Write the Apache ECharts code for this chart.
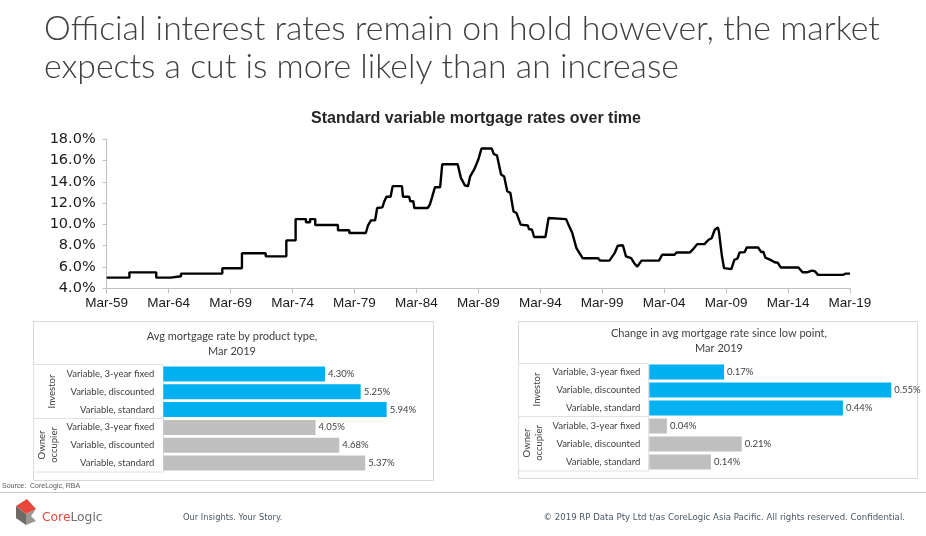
<!DOCTYPE html>
<html>
<head>
<meta charset="utf-8">
<script src="https://cdn.jsdelivr.net/npm/echarts@6/dist/echarts.min.js"></script>
<style>
html,body{margin:0;padding:0;background:#fff;}
#c{width:926px;height:536px;}
</style>
</head>
<body>
<div id="c"></div>
<script>
// ---- Data ----
const rateDates = ["1959-03","1961-01","1961-01","1963-03","1963-03","1964-05","1964-05","1965-03","1965-03","1968-07","1968-07","1970-02","1970-02","1972-01","1972-01","1973-09","1973-09","1974-06","1974-06","1975-04","1975-04","1975-08","1975-08","1976-01","1976-01","1977-11","1977-11","1978-10","1978-10","1980-02","1980-04","1980-07","1980-11","1981-01","1981-06","1981-08","1981-10","1982-02","1982-04","1983-01","1983-02","1983-08","1983-09","1983-12","1984-01","1985-02","1985-04","1985-06","1985-09","1986-02","1986-04","1987-07","1987-10","1988-02","1988-05","1988-07","1988-11","1989-03","1989-06","1990-04","1990-06","1990-09","1991-01","1991-04","1991-07","1991-10","1992-01","1992-04","1992-08","1993-03","1993-04","1993-07","1993-09","1994-08","1994-11","1996-04","1996-07","1996-10","1997-02","1997-05","1997-08","1998-11","1999-01","1999-10","2000-03","2000-06","2000-11","2001-02","2001-07","2001-10","2002-01","2002-05","2003-10","2004-01","2005-01","2005-03","2006-04","2006-08","2006-11","2007-06","2007-10","2008-01","2008-04","2008-07","2008-08","2008-11","2009-01","2009-08","2009-11","2010-02","2010-04","2010-09","2010-11","2011-10","2012-01","2012-03","2012-05","2012-10","2013-02","2013-05","2013-08","2015-01","2015-05","2015-10","2016-02","2016-05","2016-08","2018-08","2018-11","2019-03"];
const rateValues = [5.0,5.0,5.5,5.5,5.0,5.0,5.13,5.13,5.38,5.38,5.88,5.88,7.3,7.3,7.0,7.0,8.5,8.5,10.5,10.5,10.2,10.2,10.5,10.5,9.95,9.95,9.45,9.45,9.2,9.2,9.88,10.38,10.4,11.55,11.6,12.18,12.6,12.6,13.6,13.6,12.6,12.6,12.18,12.18,11.55,11.55,11.87,12.5,13.5,13.5,15.65,15.65,14.4,13.66,13.6,14.5,15.17,16.1,17.13,17.13,16.6,16.5,14.7,14.5,13.12,12.97,11.23,11.07,9.98,9.9,9.57,9.5,8.82,8.82,10.6,10.5,9.82,9.19,7.78,7.3,6.83,6.83,6.6,6.6,7.3,8.0,8.05,7.0,6.83,6.36,6.04,6.6,6.6,7.15,7.15,7.37,7.37,7.78,8.15,8.15,8.56,8.7,9.5,9.72,9.35,6.98,5.89,5.8,6.67,6.8,7.36,7.4,7.83,7.83,7.4,7.45,6.89,6.67,6.45,6.4,5.95,5.95,5.51,5.51,5.66,5.6,5.26,5.26,5.38,5.38];
const yTickLabels = ["4.0%","6.0%","8.0%","10.0%","12.0%","14.0%","16.0%","18.0%"];
const productTypes = ["Variable, 3-year fixed","Variable, discounted","Variable, standard","Variable, 3-year fixed","Variable, discounted","Variable, standard"];
const avgRateInvestor = [4.30,5.25,5.94];
const avgRateOwner = [4.05,4.68,5.37];
const changeInvestor = [0.17,0.55,0.44];
const changeOwner = [0.04,0.21,0.14];

// ---- Build ----
function monthIndex(s){const p=s.split('-');return (parseInt(p[0])-1959)*12+(parseInt(p[1])-3);}
const lineData = rateDates.map((d,i)=>[monthIndex(d), rateValues[i]]);
const BLUE='#00B0F0', GREY='#BFBFBF';
function barData(inv, own){
  return inv.map(v=>({value:v,itemStyle:{color:BLUE}})).concat(own.map(v=>({value:v,itemStyle:{color:GREY}})));
}
const SMALL = "Lato,'Liberation Sans',Arial,sans-serif";
const TXT = '#404040';

const chart = echarts.init(document.getElementById('c'), null, {renderer:'canvas'});
const option = {
  animation:false,
  backgroundColor:'#fff',
  grid:[
    {left:106.7, top:139.3, width:743.3, height:149},
    {left:163.3, top:365, width:263.2, height:107},
    {left:649.3, top:363, width:264, height:108}
  ],
  xAxis:[
    {gridIndex:0, type:'value', min:0, max:720, interval:60,
     axisLine:{show:true, lineStyle:{color:'#BFBFBF', width:1}},
     axisTick:{show:true, length:5, lineStyle:{color:'#BFBFBF'}},
     splitLine:{show:false},
     axisLabel:{margin:8, fontSize:13.5, color:'#1a1a1a', fontFamily:"'Liberation Sans',Arial,sans-serif",
       formatter:v=>'Mar-'+String((59+v/12)%100).padStart(2,'0')}},
    {gridIndex:1, type:'value', min:0, max:7, show:false},
    {gridIndex:2, type:'value', min:0, max:0.6, show:false}
  ],
  yAxis:[
    {gridIndex:0, type:'value', min:4, max:18, interval:2,
     axisLine:{show:true, lineStyle:{color:'#BFBFBF', width:1}},
     axisTick:{show:true, length:4, lineStyle:{color:'#BFBFBF'}},
     splitLine:{show:false},
     axisLabel:{margin:11, fontSize:14.5, color:'#1a1a1a', fontFamily:"'DejaVu Sans',sans-serif",
       formatter:v=>yTickLabels[Math.round((v-4)/2)]}},
    {gridIndex:1, type:'category', data:productTypes, inverse:true,
     axisLine:{show:false}, axisTick:{show:false},
     axisLabel:{margin:9, fontSize:9.5, color:TXT, fontFamily:SMALL}},
    {gridIndex:2, type:'category', data:productTypes, inverse:true,
     axisLine:{show:false}, axisTick:{show:false},
     axisLabel:{margin:9, fontSize:9.5, color:TXT, fontFamily:SMALL}}
  ],
  series:[
    {type:'line', xAxisIndex:0, yAxisIndex:0, data:lineData, showSymbol:false, symbol:'none',
     lineStyle:{color:'#000', width:2.4}, silent:true},
    {type:'bar', xAxisIndex:1, yAxisIndex:1, data:barData(avgRateInvestor, avgRateOwner), barWidth:15,
     label:{show:true, position:'right', distance:3, fontSize:9.5, color:TXT, fontFamily:SMALL,
       formatter:p=>p.value.toFixed(2)+'%'}},
    {type:'bar', xAxisIndex:2, yAxisIndex:2, data:barData(changeInvestor, changeOwner), barWidth:15,
     label:{show:true, position:'right', distance:3, fontSize:9.5, color:TXT, fontFamily:SMALL,
       formatter:p=>p.value.toFixed(2)+'%'}}
  ],
  graphic:[
    // headline
    {type:'text', x:44, y:29, style:{text:'Official interest rates remain on hold however, the market', fontSize:33.8, fill:'#3f3f3f', fontFamily:"Lato,sans-serif", fontWeight:300, verticalAlign:'middle'}},
    {type:'text', x:44, y:67, style:{text:'expects a cut is more likely than an increase', fontSize:33.8, fill:'#3f3f3f', fontFamily:"Lato,sans-serif", fontWeight:300, verticalAlign:'middle'}},
    // chart title
    {type:'text', x:476, y:119, style:{text:'Standard variable mortgage rates over time', fontSize:16, fontWeight:'bold', fill:'#262626', fontFamily:"'Liberation Sans',Arial,sans-serif", align:'center', verticalAlign:'middle'}},
    // panel borders
    {type:'rect', shape:{x:33.5, y:321.5, width:400, height:159}, style:{fill:'none', stroke:'#D9D9D9', lineWidth:1}},
    {type:'rect', shape:{x:518.5, y:321.5, width:399, height:157}, style:{fill:'none', stroke:'#D9D9D9', lineWidth:1}},
    // category boxes
    {type:'rect', shape:{x:33.5, y:364.5, width:130, height:107.5}, style:{fill:'none', stroke:'#E0E0E0', lineWidth:1}},
    {type:'line', shape:{x1:33.5, y1:418.5, x2:163.5, y2:418.5}, style:{stroke:'#E0E0E0', lineWidth:1}},
    {type:'rect', shape:{x:518.5, y:363.5, width:130, height:107.5}, style:{fill:'none', stroke:'#E0E0E0', lineWidth:1}},
    {type:'line', shape:{x1:518.5, y1:416.5, x2:648.5, y2:416.5}, style:{stroke:'#E0E0E0', lineWidth:1}},
    // panel titles
    {type:'text', x:232, y:336, style:{text:'Avg mortgage rate by product type,', fontSize:11, fill:TXT, fontFamily:SMALL, align:'center', verticalAlign:'middle'}},
    {type:'text', x:232, y:351, style:{text:'Mar 2019', fontSize:11, fill:TXT, fontFamily:SMALL, align:'center', verticalAlign:'middle'}},
    {type:'text', x:719, y:333, style:{text:'Change in avg mortgage rate since low point,', fontSize:11, fill:TXT, fontFamily:SMALL, align:'center', verticalAlign:'middle'}},
    {type:'text', x:719, y:348, style:{text:'Mar 2019', fontSize:11, fill:TXT, fontFamily:SMALL, align:'center', verticalAlign:'middle'}},
    // group labels (rotated)
    {type:'text', x:52, y:391.5, rotation:Math.PI/2, style:{text:'Investor', fontSize:9.5, fill:TXT, fontFamily:SMALL, align:'center', verticalAlign:'middle'}},
    {type:'text', x:48, y:445, rotation:Math.PI/2, style:{text:'Owner\noccupier', fontSize:9.5, lineHeight:12.5, fill:TXT, fontFamily:SMALL, align:'center', verticalAlign:'middle'}},
    {type:'text', x:537, y:389.5, rotation:Math.PI/2, style:{text:'Investor', fontSize:9.5, fill:TXT, fontFamily:SMALL, align:'center', verticalAlign:'middle'}},
    {type:'text', x:533, y:443, rotation:Math.PI/2, style:{text:'Owner\noccupier', fontSize:9.5, lineHeight:12.5, fill:TXT, fontFamily:SMALL, align:'center', verticalAlign:'middle'}},
    // source + footer
    {type:'text', x:2, y:486, style:{text:'Source:  CoreLogic, RBA', fontSize:7, fill:'#595959', fontFamily:"'Liberation Sans',Arial,sans-serif", verticalAlign:'middle'}},
    {type:'line', shape:{x1:0, y1:492.5, x2:926, y2:492.5}, style:{stroke:'#C8C8C8', lineWidth:1}},
    // logo
    {type:'polygon', shape:{points:[[16,506],[27,499],[36,509],[26,514]]}, style:{fill:'#E8473C'}},
    {type:'polygon', shape:{points:[[16,506],[26,514],[26,525],[16,518]]}, style:{fill:'#6E6A66'}},
    {type:'polygon', shape:{points:[[26,514],[36,509],[31,516],[36,521],[26,525]]}, style:{fill:'#9B9590'}},
    {type:'text', x:42, y:518, style:{text:'{r|Core}{g|Logic}', verticalAlign:'middle',
      rich:{r:{fontSize:12.3, fill:'#E8473C', fontFamily:"'DejaVu Sans',sans-serif"}, g:{fontSize:12.3, fill:'#6D6E71', fontFamily:"'DejaVu Sans',sans-serif"}}}},
    {type:'text', x:183, y:518, style:{text:'Our Insights. Your Story.', fontSize:8.3, fill:'#4A5866', fontFamily:"'DejaVu Sans',sans-serif", verticalAlign:'middle'}},
    {type:'text', x:905, y:518, style:{text:'© 2019 RP Data Pty Ltd t/as CoreLogic Asia Pacific. All rights reserved. Confidential.', fontSize:8.6, fill:'#4A5866', fontFamily:"'DejaVu Sans',sans-serif", align:'right', verticalAlign:'middle'}}
  ]
};
chart.setOption(option);
</script>
</body>
</html>
